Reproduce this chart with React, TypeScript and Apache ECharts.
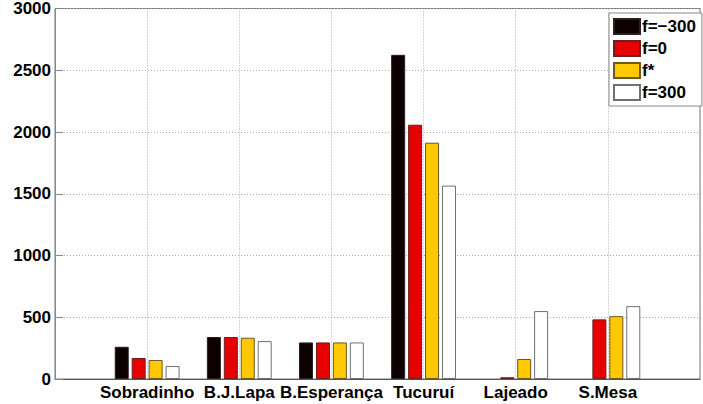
import React, { useEffect, useRef } from "react";
import * as echarts from "echarts";

const categories = ["Sobradinho", "B.J.Lapa", "B.Esperança", "Tucuruí", "Lajeado", "S.Mesa"];
const seriesNames = ["f=−300", "f=0", "f*", "f=300"];
const fMinus300 = [261, 340, 296, 2625, 0, 0];
const f0 = [170, 340, 296, 2059, 14, 483];
const fStar = [154, 334, 296, 1913, 162, 509];
const f300 = [105, 307, 296, 1566, 550, 590];
const yTicks = [0, 500, 1000, 1500, 2000, 2500, 3000];

const colors = ["#0d0000", "#e60000", "#ffc800", "#ffffff"];
const borders = ["#2a2020", "#6a2020", "#6a5a20", "#707070"];

export default function App() {
  const ref = useRef<HTMLDivElement>(null);
  useEffect(() => {
    if (!ref.current) return;
    const chart = echarts.init(ref.current, null, { renderer: "svg" });
    const cats = ["", ...categories, ""];
    const all = [fMinus300, f0, fStar, f300];
    const font = "'Liberation Sans', Arial, sans-serif";
    chart.setOption({
      animation: false,
      backgroundColor: "#ffffff",
      grid: {
        left: 55,
        top: 8,
        width: 655,
        bottom: 25,
        show: true,
        borderColor: "#777",
        borderWidth: 1,
        containLabel: false,
      },
      legend: {
        orient: "vertical",
        left: 609,
        top: 13,
        itemWidth: 26,
        itemHeight: 15,
        itemGap: 5,
        padding: [5, 6, 5, 4],
        backgroundColor: "#ffffff",
        borderColor: "#888",
        borderWidth: 1,
        borderRadius: 0,
        icon: "rect",
        textStyle: { fontFamily: font, fontWeight: "bold", fontSize: 17, color: "#000", padding: [0, 0, 0, -3] },
        data: seriesNames,
      },
      xAxis: {
        type: "category",
        data: cats,
        boundaryGap: false,
        axisLine: { show: true, lineStyle: { color: "#555", width: 1 } },
        axisTick: { show: false },
        axisLabel: {
          interval: 0,
          margin: 5,
          fontFamily: font,
          fontWeight: "bold",
          fontSize: 17,
          color: "#000",
        },
        splitLine: { show: true, interval: 0, lineStyle: { color: "#aaa", type: [1, 2], width: 1 } },
      },
      yAxis: {
        type: "value",
        min: yTicks[0],
        max: yTicks[yTicks.length - 1],
        interval: 500,
        axisLine: { show: true, lineStyle: { color: "#888", width: 1 } },
        axisTick: { show: true, inside: true, length: 8, lineStyle: { color: "#888" } },
        axisLabel: {
          margin: 4,
          fontFamily: font,
          fontWeight: "bold",
          fontSize: 17,
          color: "#000",
          formatter: (v: number) => String(v),
        },
        splitLine: { show: true, lineStyle: { color: "#aaa", type: [1, 2], width: 1 } },
      },
      series: all.map((vals, i) => ({
        name: seriesNames[i],
        type: "bar",
        barWidth: 14,
        barGap: "21%",
        data: [null, ...vals.map((v) => (v === 0 ? null : v)), null],
        itemStyle: { color: colors[i], borderColor: borders[i], borderWidth: 1 },
      })),
    });
    return () => chart.dispose();
  }, []);
  return <div ref={ref} style={{ width: 703, height: 404, position: "absolute", left: 0, top: 0 }} />;
}
